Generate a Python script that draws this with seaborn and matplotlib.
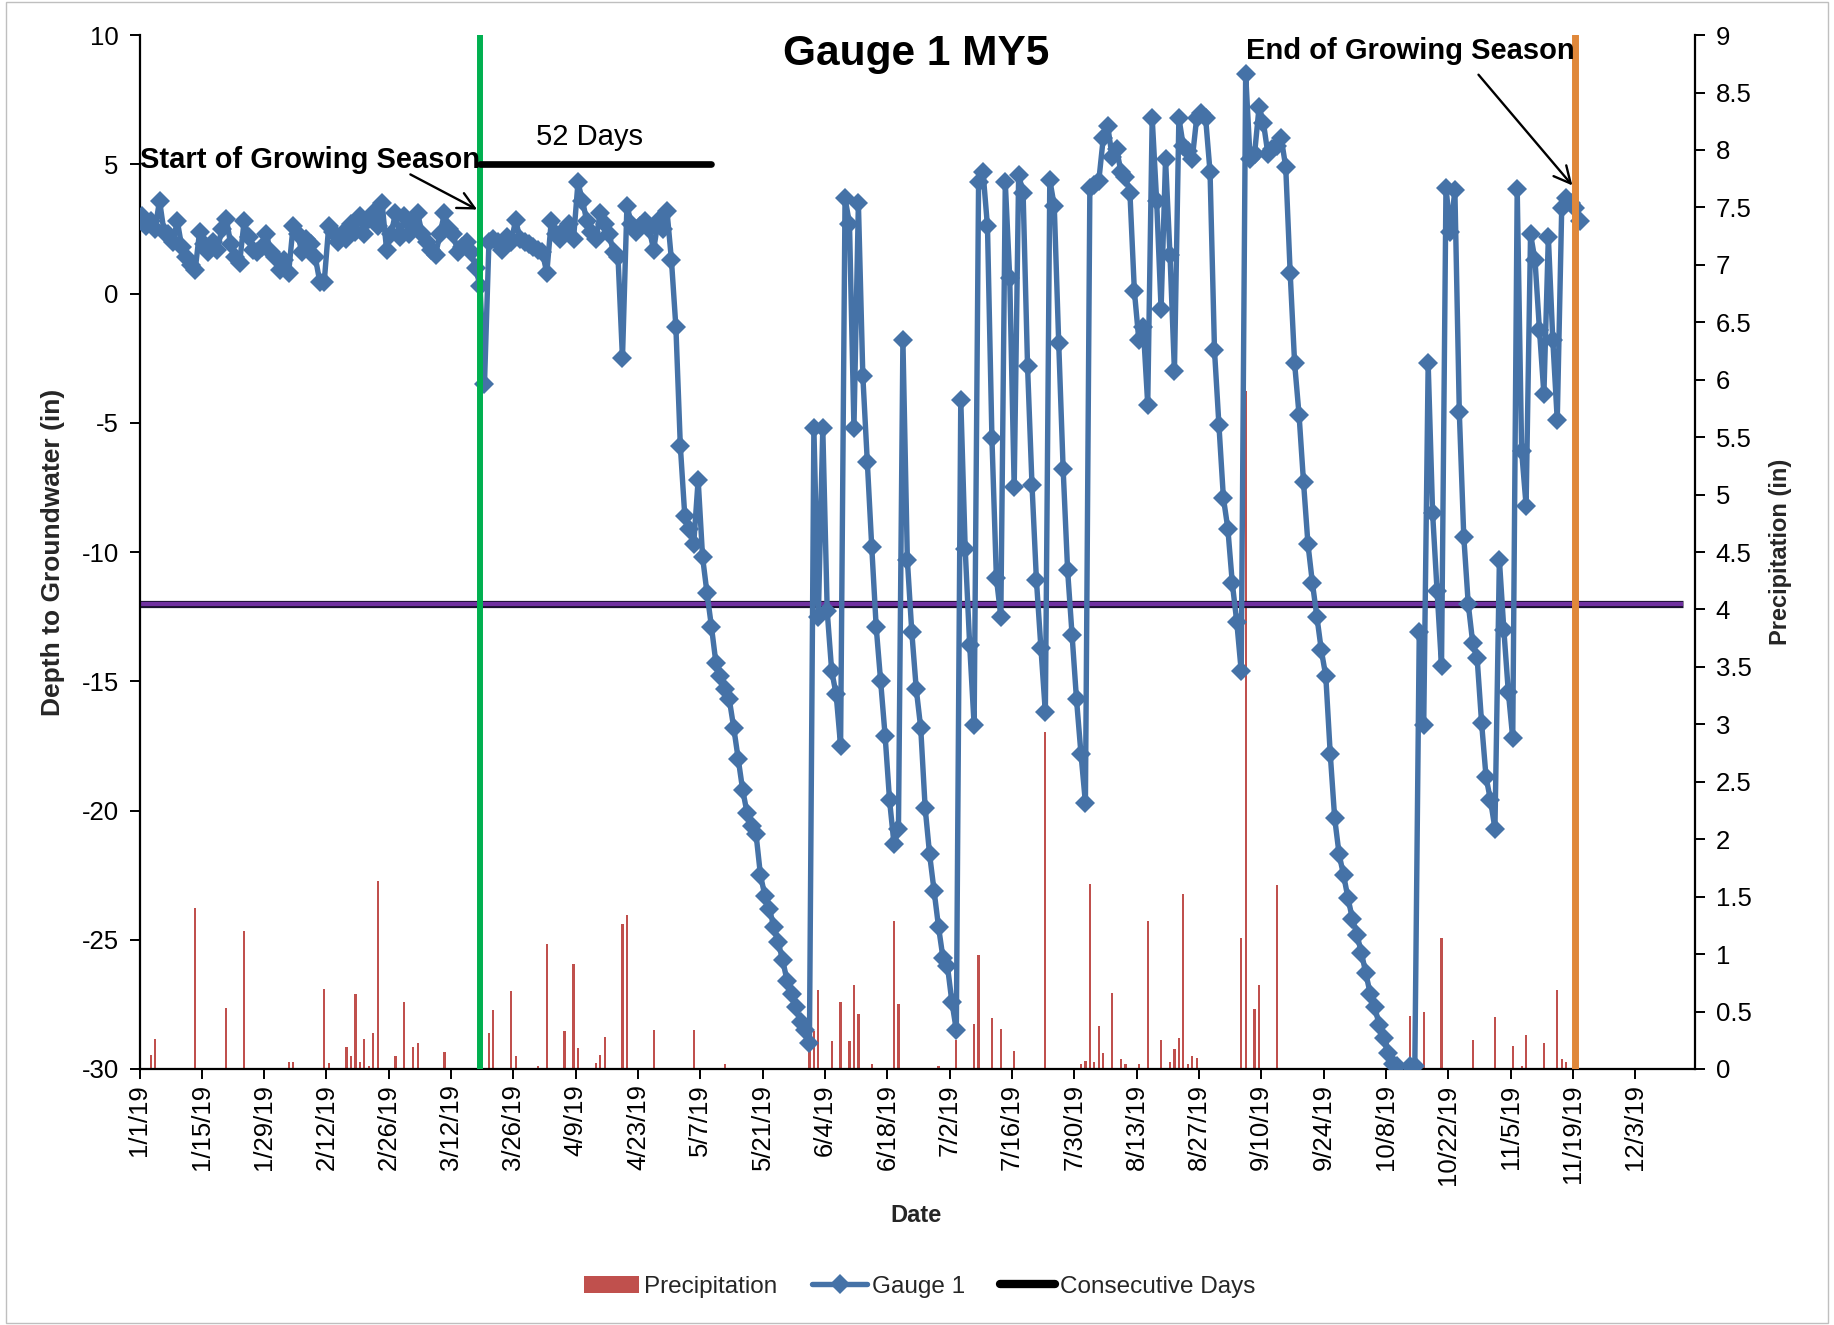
import matplotlib
matplotlib.use("Agg")
import matplotlib.pyplot as plt
from matplotlib.patches import Patch, Rectangle
from matplotlib.lines import Line2D
import numpy as np
import pandas as pd
import seaborn as sns

sns.set_theme(style="white")
plt.rcParams['font.family'] = ['Liberation Sans', 'DejaVu Sans']
plt.rcParams['axes.unicode_minus'] = False

# ---------------- data ----------------
# Gauge 1 depth to groundwater (in), one reading per day starting 1/1/19 (None = no reading)
gauge_depth = [
    3.0, 2.6, 2.8, 2.5, 3.6, 2.4, 2.3, 2.0, 2.8, 1.8,
    1.4, 1.1, 0.9, 2.4, 1.9, 1.6, 2.0, 1.7, 2.5, 2.9,
    1.9, 1.4, 1.2, 2.8, 2.2, 1.7, 1.6, 1.8, 2.3, 1.6,
    1.4, 0.9, 1.3, 0.8, 2.6, 2.3, 1.6, 2.1, 1.9, 1.4,
    0.45, 0.45, 2.6, 2.4, 2.0, 2.3, 2.1, 2.7, 2.4, 3.0,
    2.3, 2.9, 3.1, 2.6, 3.5, 1.7, 2.3, 3.1, 2.2, 3.0,
    2.3, 2.6, 3.1, 2.3, 2.0, 1.7, 1.5, 2.3, 3.1, 2.5,
    2.3, 1.6, 1.8, 2.0, 1.6, 1.0, 0.3, -3.5, 2.0, 2.1,
    2.0, 1.7, 2.2, 2.0, 2.85, 2.1, 2.0, 1.9, 1.8, 1.7,
    1.6, 0.8, 2.8, 2.3, 2.1, 2.5, 2.7, 2.1, 4.3, 3.6,
    2.8, 2.4, 2.1, 3.1, 2.7, 2.3, 1.6, 1.4, -2.5, 3.4,
    2.7, 2.4, 2.6, 2.8, 2.5, 1.7, 2.8, 2.5, 3.2, 1.3,
    -1.3, -5.9, -8.6, -9.1, -9.7, -7.2, -10.2, -11.6, -12.9, -14.3,
    -14.8, -15.3, -15.7, -16.8, -18.0, -19.2, -20.1, -20.6, -20.9, -22.5,
    -23.3, -23.8, -24.5, -25.1, -25.8, -26.6, -27.1, -27.6, -28.2, -28.5,
    -29.0, -5.2, -12.5, -5.2, -12.3, -14.6, -15.5, -17.5, 3.7, 2.7,
    -5.2, 3.5, -3.2, -6.5, -9.8, -12.9, -15.0, -17.1, -19.6, -21.3,
    -20.7, -1.8, -10.3, -13.1, -15.3, -16.8, -19.9, -21.7, -23.1, -24.5,
    -25.7, -26.0, -27.4, -28.5, -4.1, -9.9, -13.6, -16.7, 4.3, 4.7,
    2.6, -5.6, -11.0, -12.5, 4.3, 0.6, -7.5, 4.6, 3.9, -2.8,
    -7.4, -11.1, -13.7, -16.2, 4.4, 3.4, -1.9, -6.8, -10.7, -13.2,
    -15.7, -17.8, -19.7, 4.1, 4.2, 4.35, 6.0, 6.5, 5.3, 5.6,
    4.7, 4.5, 3.9, 0.1, -1.8, -1.3, -4.3, 6.8, 3.6, -0.6,
    5.2, 1.5, -3.0, 6.8, 5.7, 5.5, 5.2, 6.8, 7.0, 6.8,
    4.7, -2.2, -5.1, -7.9, -9.1, -11.2, -12.7, -14.6, 8.5, 5.2,
    5.4, 7.2, 6.6, 5.4, 5.6, 5.7, 6.0, 4.9, 0.8, -2.7,
    -4.7, -7.3, -9.7, -11.2, -12.5, -13.8, -14.8, -17.8, -20.3, -21.7,
    -22.5, -23.4, -24.2, -24.8, -25.5, -26.3, -27.1, -27.6, -28.3, -28.8,
    -29.4, -29.8, -29.9, None, None, -29.9, -29.9, -13.1, -16.7, -2.7,
    -8.5, -11.5, -14.4, 4.1, 2.4, 4.0, -4.6, -9.4, -12.0, -13.5,
    -14.1, -16.6, -18.7, -19.6, -20.7, -10.3, -13.0, -15.4, -17.2, 4.05,
    -6.1, -8.2, 2.3, 1.3, -1.4, -3.9, 2.2, -1.8, -4.9, 3.3,
    3.7, 3.5, 3.3, 2.8,
]

# Daily precipitation (in): day index from 1/1/19 and amount
precip_day = [2, 3, 12, 19, 23, 33, 34, 41, 42, 46, 47, 48, 49, 50, 51, 52, 53, 57, 59, 61,
              62, 68, 78, 79, 83, 84, 89, 91, 95, 97, 98, 102, 103, 104, 108, 109, 115, 124, 131, 150,
              151, 152, 155, 157, 159, 160, 161, 164, 169, 170, 179, 183, 187, 188, 191, 193, 196, 203, 211, 212,
              213, 214, 215, 216, 218, 220, 221, 224, 226, 229, 231, 232, 233, 234, 235, 236, 237, 247, 248, 250,
              251, 255, 280, 285, 288, 292, 299, 304, 308, 310, 311, 315, 318, 319, 320]
precip_in = [0.12, 0.26, 1.40, 0.53, 1.20, 0.06, 0.06, 0.70, 0.05, 0.19, 0.11, 0.65, 0.06, 0.26, 0.03, 0.31, 1.64, 0.11, 0.58, 0.19,
             0.23, 0.15, 0.31, 0.51, 0.68, 0.11, 0.03, 1.09, 0.33, 0.91, 0.18, 0.05, 0.12, 0.28, 1.26, 1.34, 0.34, 0.34, 0.04, 0.33,
             0.33, 0.69, 0.24, 0.58, 0.24, 0.73, 0.48, 0.04, 1.29, 0.57, 0.03, 0.25, 0.39, 0.99, 0.44, 0.35, 0.16, 2.93, 0.04, 0.07,
             1.61, 0.06, 0.37, 0.14, 0.66, 0.09, 0.04, 0.04, 1.29, 0.25, 0.06, 0.17, 0.27, 1.52, 0.04, 0.11, 0.10, 1.14, 5.9, 0.52,
             0.73, 1.60, 0.29, 0.46, 0.50, 1.14, 0.25, 0.45, 0.20, 0.03, 0.30, 0.23, 0.69, 0.09, 0.06]

start_season_day = 76      # 3/18/19
end_season_day = 322       # 11/19/19
consecutive_days = 52
threshold_depth = -12.0
tick_days = list(range(0, 337, 14))
tick_labels = [f"{d.month}/{d.day}/19" for d in pd.Timestamp("2019-01-01") + pd.to_timedelta(tick_days, unit="D")]

# ---------------- figure ----------------
W, H = 1834, 1325
fig = plt.figure(figsize=(W / 100, H / 100), dpi=100)
ax = fig.add_axes([139.5 / W, 1 - 1069 / H, (1694.8 - 139.5) / W, (1069 - 35.1) / H])
ax2 = ax.twinx()

BLUE = "#4572A7"
RED = "#C0504D"

# precipitation bars (right axis)
ax2.bar(np.array(precip_day) + 0.5, precip_in, width=0.5, color=RED, edgecolor="none", zorder=1)
ax2.set_ylim(0, 9)
ax2.set_yticks(np.arange(0, 9.01, 0.5))
ax2.set_yticklabels([f"{v:g}" for v in np.arange(0, 9.01, 0.5)])

# gauge line
gdf = pd.DataFrame({"pos": np.arange(len(gauge_depth)) + 0.5,
                    "depth": pd.to_numeric(pd.Series(gauge_depth), errors="coerce")}).dropna()

ax.set_zorder(ax2.get_zorder() + 1)
ax.patch.set_visible(False)

# threshold line (purple with dark outline)
ax.plot([0, 346.8], [threshold_depth, threshold_depth], color="#1a1030", lw=5.2, zorder=2, solid_capstyle="butt")
ax.plot([0, 346.8], [threshold_depth, threshold_depth], color="#7030A0", lw=3.0, zorder=2.1, solid_capstyle="butt")

sns.lineplot(data=gdf, x="pos", y="depth", ax=ax, color=BLUE, lw=3.9, marker="D",
             markersize=10.5, markeredgewidth=0, sort=False, zorder=3, legend=False)

# growing season lines
ax.axvline(start_season_day + 0.5, color="#00B050", lw=4.3, zorder=4)
ax.axvline(end_season_day + 0.5, color="#E0883A", lw=5.0, zorder=4)

# consecutive days bar
ax.plot([start_season_day + 0.5, start_season_day + 0.5 + consecutive_days], [5, 5],
        color="black", lw=4.8, solid_capstyle="round", zorder=5)
ax.text(start_season_day + 0.5 + consecutive_days / 2 - 1.3, 6.05, f"{consecutive_days} Days",
        ha="center", va="center", fontsize=21, color="black")

# annotations
ax.annotate("", xy=(start_season_day + 0.4, 3.2), xytext=(60.3, 4.66),
            arrowprops=dict(arrowstyle="->", color="black", lw=1.7, mutation_scale=30), zorder=6)
ax.text(0.0, 5.15, "Start of Growing Season", ha="left", va="center", fontsize=21,
        fontweight="bold", color="black", zorder=6)
ax.annotate("", xy=(end_season_day + 0.3, 4.1), xytext=(300.4, 8.55),
            arrowprops=dict(arrowstyle="->", color="black", lw=1.7, mutation_scale=30), zorder=6)
ax.text(end_season_day + 0.3, 9.4, "End of Growing Season", ha="right", va="center", fontsize=21,
        fontweight="bold", color="black", zorder=6)

# axes setup
ax.set_xlim(0, 349.4)
ax.set_ylim(-30, 10)
ax.set_yticks(np.arange(-30, 10.1, 5))
ax.set_xticks(tick_days)
ax.set_xticklabels(tick_labels, rotation=90, ha="center", va="top")

for a in (ax, ax2):
    for s in a.spines.values():
        s.set_visible(False)
ax.spines["left"].set_visible(True)
ax.spines["bottom"].set_visible(True)
ax2.spines["right"].set_visible(True)
for s in (ax.spines["left"], ax.spines["bottom"], ax2.spines["right"]):
    s.set_color("black")
    s.set_linewidth(1.6)

ax.tick_params(axis="y", direction="out", length=7, width=1.4, labelsize=18.5, pad=8, colors="black", left=True)
ax.tick_params(axis="x", direction="out", length=7, width=1.4, labelsize=18.5, pad=4, colors="black", bottom=True)
ax2.tick_params(axis="y", direction="out", length=7, width=1.4, labelsize=18.5, pad=8, colors="black", right=True)

ax.set_xlabel("Date", fontsize=17, fontweight="bold")
ax.set_ylabel("Depth to Groundwater (in)", fontsize=19, fontweight="bold")
ax2.set_ylabel("Precipitation (in)", fontsize=17, fontweight="bold")
ax.xaxis.set_label_coords(0.499, -0.131)
ax.yaxis.set_label_coords(-0.0476, 0.5)
ax2.yaxis.set_label_coords(1.0474, 0.5)
ax.grid(False)
ax2.grid(False)

fig.text(915.8 / W, 1 - 54 / H, "Gauge 1 MY5", ha="center", va="center",
         fontsize=30.5, fontweight="bold", color="black")

handles = [Patch(facecolor=RED, edgecolor="none"),
           Line2D([0], [0], color=BLUE, lw=3.9, marker="D", markersize=10.5, markeredgewidth=0),
           Line2D([0], [0], color="black", lw=6)]
fig.legend(handles, ["Precipitation", "Gauge 1", "Consecutive Days"], loc="center",
           bbox_to_anchor=(0.5015, 0.029), ncol=3, frameon=False, fontsize=17.5,
           handlelength=2.25, handletextpad=0.2, columnspacing=1.45)

fig.patches.append(Rectangle((6 / W, 2 / H), 1 - 12 / W, 1 - 4 / H, transform=fig.transFigure,
                             fill=False, edgecolor="#BFBFBF", lw=1.0))

fig.savefig("out.png", dpi=100)
